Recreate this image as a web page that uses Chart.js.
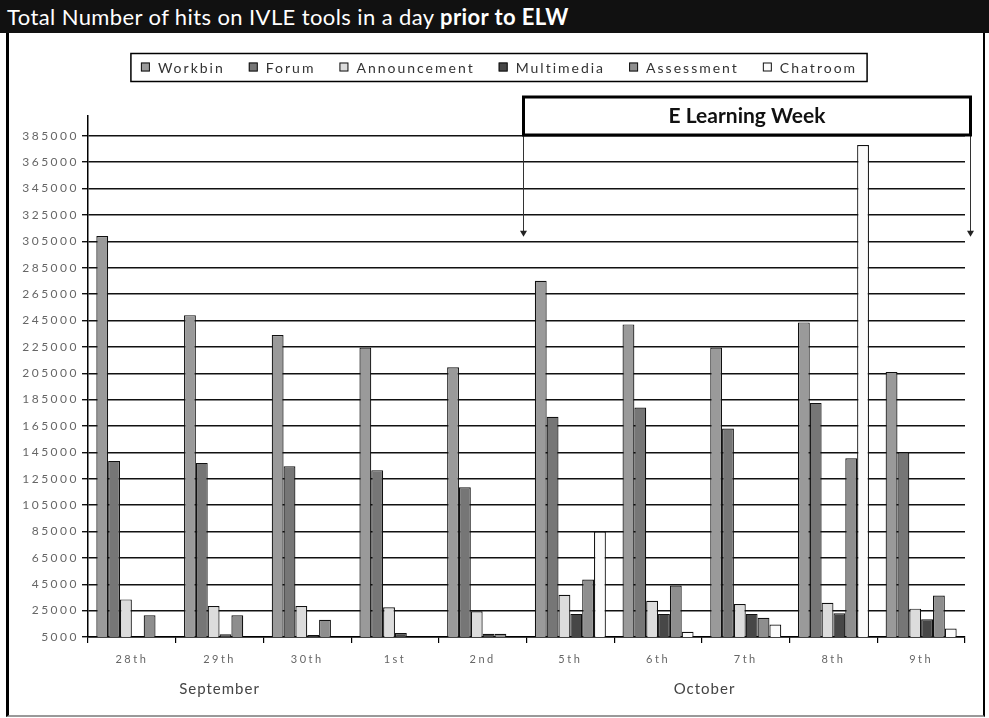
<!DOCTYPE html>
<html>
<head>
<meta charset="utf-8">
<title>IVLE tools hits</title>
<script src="https://cdn.jsdelivr.net/npm/chart.js@4"></script>
<style>
  html, body { margin: 0; padding: 0; background: #fff; }
  #wrap { position: relative; width: 989px; height: 718px; overflow: hidden; }
  #title {
    position: absolute; left: 0; top: 0; width: 989px; height: 33px;
    background: #111; color: #fff;
    font-family: Lato, sans-serif; font-size: 22px; line-height: 33px;
    padding-left: 7px; box-sizing: border-box; white-space: nowrap;
    letter-spacing: 0.4px;
  }
  #frame {
    position: absolute; left: 6px; top: 33px; width: 979px; height: 684px;
    border-left: 3px solid #000; border-right: 2px solid #000; border-bottom: 2px solid #999;
    box-sizing: border-box;
  }
  #chart { position: absolute; left: 0; top: 0; }
</style>
</head>
<body>
<div id="wrap">
  <div id="frame"></div>
  <canvas id="chart" width="989" height="718"></canvas>
  <div id="title">Total Number of hits on IVLE tools in a day <b>prior to ELW</b></div>
</div>
<script>
// Data
const categories = ['28th', '29th', '30th', '1st', '2nd', '5th', '6th', '7th', '8th', '9th'];
const months = ['September', 'October'];
const seriesNames = ['Workbin', 'Forum', 'Announcement', 'Multimedia', 'Assessment', 'Chatroom'];
const workbin = [309000, 249000, 234000, 224500, 209500, 275000, 242000, 224500, 243500, 206000];
const forum = [138500, 137000, 134500, 131500, 118500, 172000, 179000, 163000, 182500, 145000];
const announcement = [33500, 28500, 28500, 27500, 24500, 37000, 32500, 30000, 31000, 26500];
const multimedia = [null, 7000, 6500, 8000, 7500, 22500, 22500, 22500, 23000, 18500];
const assessment = [21500, 21500, 18000, null, 7500, 48500, 44000, 19500, 140500, 36500];
const chatroom = [null, null, null, null, null, 85000, 9000, 14500, 378000, 11500];
const yTicks = [5000, 25000, 45000, 65000, 85000, 105000, 125000, 145000, 165000, 185000,
  205000, 225000, 245000, 265000, 285000, 305000, 325000, 345000, 365000, 385000];
const noteText = 'E Learning Week';

const fills = ['#9a9a9a', '#767676', '#dcdcdc', '#474747', '#8e8e8e', '#fbfbfb'];
const seriesData = [workbin, forum, announcement, multimedia, assessment, chatroom];

const datasets = seriesNames.map((name, i) => ({
  label: name,
  data: seriesData[i],
  backgroundColor: fills[i],
  borderColor: '#111',
  borderWidth: 1.2,
  categoryPercentage: 0.81,
  barPercentage: 1.0
}));

// legend drawn by hand so it can get its box
const boxLegend = {
  id: 'boxLegend',
  afterDraw(chart) {
    const ctx = chart.ctx;
    ctx.save();
    ctx.font = '14px Lato, sans-serif';
    ctx.letterSpacing = '2px';
    const sw = 9, gapIn = 8, gapOut = 24, pad = 10;
    const widths = seriesNames.map(n => ctx.measureText(n).width);
    let total = 0;
    widths.forEach((w, i) => { total += sw + gapIn + w + (i < widths.length - 1 ? gapOut : 0); });
    const cx = 499, cy = 67;
    let x = cx - total / 2;
    ctx.lineWidth = 1.5;
    ctx.strokeStyle = '#000';
    ctx.strokeRect(x - pad, 53.5, total + pad * 2, 28);
    ctx.textBaseline = 'middle';
    seriesNames.forEach((n, i) => {
      ctx.fillStyle = fills[i];
      ctx.fillRect(x, cy - sw / 2, sw, sw);
      ctx.lineWidth = 1;
      ctx.strokeStyle = '#111';
      ctx.strokeRect(x + 0.5, cy - sw / 2 + 0.5, sw - 1, sw - 1);
      x += sw + gapIn;
      ctx.fillStyle = '#333';
      ctx.fillText(n, x, cy + 1);
      x += widths[i] + gapOut;
    });
    ctx.restore();
  }
};

// month labels under the day labels, plus the E Learning Week box
const extras = {
  id: 'extras',
  beforeDraw(chart) {
    chart.ctx.letterSpacing = '2.5px';
  },
  afterDraw(chart) {
    const ctx = chart.ctx;
    const xs = chart.scales.x, ys = chart.scales.y, area = chart.chartArea;
    ctx.save();
    ctx.letterSpacing = '1px';
    ctx.font = '15px Lato, sans-serif';
    ctx.fillStyle = '#444';
    ctx.textAlign = 'center';
    ctx.textBaseline = 'middle';
    const monthAt = [1, 6.53];
    months.forEach((m, i) => {
      ctx.fillText(m, xs.getPixelForValue(monthAt[i]), 689);
    });

    // E Learning Week box
    const x1 = Math.round(xs.getPixelForValue(4.5)) - 3.5;
    const x2 = Math.round(area.right) + 5.5;
    const y1 = area.top - 19, y2 = area.top + 19;
    const tip = ys.getPixelForValue(308500);
    ctx.strokeStyle = '#333';
    ctx.fillStyle = '#222';
    ctx.lineWidth = 1;
    [x1, x2].forEach(ax => {
      ctx.beginPath();
      ctx.moveTo(ax, y2);
      ctx.lineTo(ax, tip - 5);
      ctx.stroke();
      ctx.beginPath();
      ctx.moveTo(ax - 3.5, tip - 6);
      ctx.lineTo(ax + 3.5, tip - 6);
      ctx.lineTo(ax, tip);
      ctx.closePath();
      ctx.fill();
    });
    ctx.fillStyle = '#fff';
    ctx.fillRect(x1, y1, x2 - x1, y2 - y1);
    ctx.lineWidth = 3;
    ctx.strokeStyle = '#000';
    ctx.strokeRect(x1, y1, x2 - x1, y2 - y1);
    ctx.letterSpacing = '0px';
    ctx.font = 'bold 21px Lato, sans-serif';
    ctx.fillStyle = '#111';
    ctx.fillText(noteText, (x1 + x2) / 2, (y1 + y2) / 2);
    ctx.restore();
  }
};

const chart = new Chart(document.getElementById('chart'), {
  type: 'bar',
  data: { labels: categories, datasets: datasets },
  options: {
    responsive: false,
    animation: false,
    layout: { padding: { left: 0, right: 24, top: 116, bottom: 0 } },
    plugins: {
      legend: { display: false },
      title: { display: false },
      tooltip: { enabled: false }
    },
    scales: {
      x: {
        afterFit(scale) { scale.height = 81; },
        grid: { display: true, drawOnChartArea: false, offset: true, tickLength: 6, color: '#000', lineWidth: 1.2 },
        border: { display: true, color: '#000', width: 1.5 },
        ticks: { color: '#666', padding: 10, font: { family: 'Lato', size: 11 }, maxRotation: 0 }
      },
      y: {
        min: 5000,
        max: 400000,
        afterFit(scale) { scale.width = 88; },
        afterBuildTicks(scale) { scale.ticks = yTicks.map(v => ({ value: v })); },
        grid: { color: '#111', lineWidth: 1.4, tickLength: 6 },
        border: { display: true, color: '#000', width: 1.5 },
        ticks: { color: '#666', padding: 3, font: { family: 'Lato', size: 12 }, callback: v => String(v) }
      }
    }
  },
  plugins: [boxLegend, extras]
});
</script>
</body>
</html>
